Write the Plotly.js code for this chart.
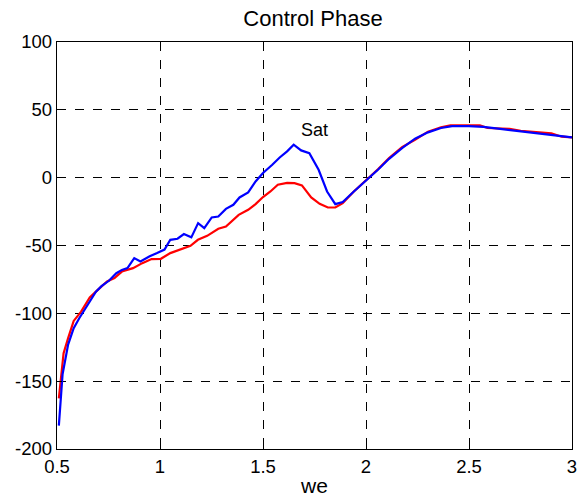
<!DOCTYPE html>
<html><head><meta charset="utf-8">
<script src="https://cdn.plot.ly/plotly-3.0.1.min.js"></script>
<style>html,body{margin:0;padding:0;background:#fff;}#chart{width:584px;height:499px;}</style>
</head><body><div id="chart"></div>
<script>
var blueX = [0.509,0.527,0.554,0.581,0.608,0.644,0.689,0.716,0.752,0.788,0.815,0.842,0.875,0.905,0.95,0.986,1.022,1.05,1.085,1.116,1.152,1.185,1.215,1.251,1.283,1.32,1.356,1.386,1.428,1.464,1.5,1.545,1.581,1.617,1.649,1.685,1.725,1.77,1.811,1.851,1.887,1.941,2.004,2.058,2.112,2.175,2.238,2.301,2.364,2.418,2.499,2.571,2.661,2.751,2.842,2.932,3.0];
var blueY = [-182.8,-145,-123,-111,-103.6,-95,-84,-80,-76,-70.4,-68,-66.7,-59.3,-61.8,-58,-55.6,-53,-45.8,-45,-41.6,-44,-33.5,-37.2,-29.3,-28.6,-23,-20,-14.6,-10.9,-2.8,3.4,9.5,14.9,19.4,24.3,20.1,18.1,5.8,-10.2,-19.5,-18,-10.2,-1.6,5.8,13.9,21.8,28.7,33.4,36.6,38,38,37.5,35.8,34.1,32.6,31.2,29.7];
var redX = [0.509,0.518,0.532,0.554,0.581,0.617,0.659,0.698,0.743,0.779,0.815,0.869,0.914,0.959,1.004,1.05,1.094,1.148,1.184,1.229,1.283,1.32,1.382,1.428,1.464,1.5,1.536,1.572,1.617,1.653,1.689,1.734,1.775,1.815,1.851,1.887,1.941,2.004,2.058,2.112,2.175,2.238,2.301,2.364,2.41,2.48,2.553,2.59,2.697,2.751,2.842,2.9,2.95,3.0];
var redY = [-162.6,-150,-129.4,-118.3,-105.6,-98.7,-88.3,-82.7,-76.5,-74,-69.2,-66.7,-63,-60,-59.8,-55.6,-53.2,-50.2,-45.8,-42.9,-37.7,-36,-27.4,-23.7,-19.5,-14.3,-10.2,-5.2,-3.8,-4,-5.7,-14.6,-19.3,-22,-22,-18.8,-10.2,-1.6,6.2,14.5,22.5,28.0,33.9,37.1,38.5,38.5,38.5,36.6,36,34.6,33.4,32.6,30.2,29.7];
var xTicks = [0.5,1,1.5,2,2.5,3];
var yTicks = [-200,-150,-100,-50,0,50,100];
var annX = 1.752, annY = 35, annText = 'Sat';

var font = 'Liberation Sans, Arial, sans-serif';
var traces = [
  {x: redX, y: redY, type:'scatter', mode:'lines', line:{color:'#ff0000', width:2.2}, hoverinfo:'skip'},
  {x: blueX, y: blueY, type:'scatter', mode:'lines', line:{color:'#0000ff', width:2.2}, hoverinfo:'skip'}
];
var axCommon = {
  showline:true, mirror:true, linecolor:'#000', linewidth:1.3,
  showgrid:true, gridcolor:'#000', griddash:'dash', gridwidth:1,
  ticks:'inside', ticklen:5, tickcolor:'#000', zeroline:false,
  tickfont:{family:font, size:18.5, color:'#000'}
};
var layout = {
  width:584, height:499,
  margin:{l:57, r:12, t:42, b:50},
  paper_bgcolor:'#fff', plot_bgcolor:'#fff',
  showlegend:false,
  title:{text:'Control Phase', font:{family:font, size:22, color:'#000'}, x:0.536, xanchor:'center', y:0.964, yanchor:'middle'},
  xaxis: Object.assign({}, axCommon, {range:[0.5,3], tickvals:xTicks, ticktext:xTicks.map(String),
    title:{text:'we', font:{family:font, size:21, color:'#000'}, standoff:2}}),
  yaxis: Object.assign({}, axCommon, {range:[-200,100], tickvals:yTicks, ticktext:yTicks.map(String)}),
  annotations:[{x:annX, y:annY, text:annText, showarrow:false, font:{family:font, size:18, color:'#000'}}]
};
Plotly.newPlot('chart', traces, layout, {displayModeBar:false, staticPlot:true});
</script></body></html>
